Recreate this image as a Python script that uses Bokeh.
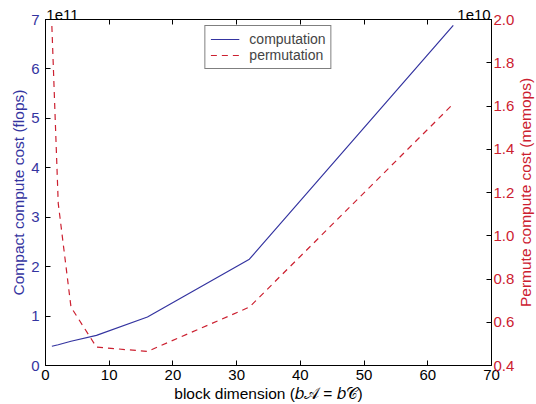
import math
from bokeh.plotting import figure
from bokeh.models import (LinearAxis, Range1d, FixedTicker, PrintfTickFormatter,
                          Label, Legend, LegendItem, ColumnDataSource)
from bokeh.embed import file_html
from bokeh.resources import INLINE

# ---- data ----
block_dim = [1, 2, 4, 8, 16, 32, 64]
computation_flops = [0.39e11, 0.42e11, 0.49e11, 0.61e11, 0.98e11, 2.15e11, 6.88e11]
permutation_memops = [1.97e10, 1.15e10, 0.67e10, 0.485e10, 0.465e10, 0.67e10, 1.61e10]
x_ticks = [0, 10, 20, 30, 40, 50, 60, 70]
left_ticks = [0, 1, 2, 3, 4, 5, 6, 7]
right_ticks = [0.4, 0.6, 0.8, 1.0, 1.2, 1.4, 1.6, 1.8, 2.0]
left_scale = 1e11
right_scale = 1e10

# ---- layout constants (text anchor positions) ----
EXP_LEFT_POS = 2.66     # centre of "1e11" along x
EXP_RIGHT_POS = 67.26   # centre of "1e10" along x

BLUE = "#3434a0"
RED = "#cc2030"
FONT = "Liberation Sans"

src = ColumnDataSource(dict(
    x=block_dim,
    comp=[v / left_scale for v in computation_flops],
    perm=[v / right_scale for v in permutation_memops],
))

p = figure(width=536, height=404, output_backend="svg", toolbar_location=None,
           x_range=Range1d(0, 70), y_range=Range1d(0, 7),
           min_border_left=45, min_border_right=45, min_border_top=19, min_border_bottom=39)
p.background_fill_color = "white"
p.border_fill_color = "white"
p.outline_line_color = "black"
p.grid.visible = False

p.extra_y_ranges = {"right": Range1d(0.4, 2.0)}

r1 = p.line("x", "comp", source=src, line_color=BLUE, line_width=1.2)
r2 = p.line("x", "perm", source=src, y_range_name="right", line_color=RED,
            line_width=1.2, line_dash="6 5")

def style_axis(ax, label_color):
    ax.axis_line_color = "black"
    ax.major_tick_line_color = "black"
    ax.major_tick_in = 5
    ax.major_tick_out = 0
    ax.minor_tick_line_color = None
    ax.major_label_text_font = FONT
    ax.major_label_text_font_size = "15px"
    ax.major_label_text_color = label_color
    ax.axis_label_text_font = FONT
    ax.axis_label_text_font_size = "15.5px"
    ax.axis_label_text_font_style = "normal"
    ax.axis_label_text_color = label_color

# bottom axis
xa = p.xaxis[0]
style_axis(xa, "black")
xa.ticker = FixedTicker(ticks=x_ticks)
xa.axis_label = "block dimension (\U0001D44F\U0001D49C = \U0001D44F\U0001D49E)"
xa.major_label_standoff = 4
xa.axis_label_standoff = 2

# left axis
ya = p.yaxis[0]
style_axis(ya, BLUE)
ya.ticker = FixedTicker(ticks=left_ticks)
ya.axis_label = "Compact compute cost (flops)"
ya.major_label_standoff = 6
ya.axis_label_standoff = 1

# right axis
ra = LinearAxis(y_range_name="right")
style_axis(ra, RED)
ra.ticker = FixedTicker(ticks=right_ticks)
ra.formatter = PrintfTickFormatter(format="%.1f")
ra.major_label_standoff = 2
p.add_layout(ra, "right")

# right axis title, reading bottom-to-top, placed in the right side panel
p.add_layout(Label(x=70, y=3.5, text="Permute compute cost (memops)", text_font=FONT,
                   text_font_size="15.5px", text_color=RED, angle=math.pi / 2,
                   text_align="center", text_baseline="alphabetic", x_offset=34),
             "right")

# top axis: tick marks (as minor ticks) and the exponent labels
ta = LinearAxis()
style_axis(ta, "black")
ta.ticker = FixedTicker(ticks=[EXP_LEFT_POS, EXP_RIGHT_POS], minor_ticks=x_ticks)
ta.major_label_overrides = {EXP_LEFT_POS: "1e11", EXP_RIGHT_POS: "1e10"}
ta.major_tick_line_color = None
ta.minor_tick_line_color = "black"
ta.minor_tick_in = 5
ta.minor_tick_out = 0
ta.major_label_standoff = 0
p.add_layout(ta, "above")

legend = Legend(items=[LegendItem(label="computation", renderers=[r1]),
                       LegendItem(label="permutation", renderers=[r2])],
                location="top_center", margin=6, padding=5, spacing=0,
                glyph_width=29, glyph_height=16, label_height=16, label_standoff=10,
                label_text_font=FONT, label_text_font_size="14px",
                border_line_color="black", border_line_width=1,
                background_fill_color="white", background_fill_alpha=1)
p.add_layout(legend, "center")

open("out.html", "w").write(file_html(p, INLINE))
